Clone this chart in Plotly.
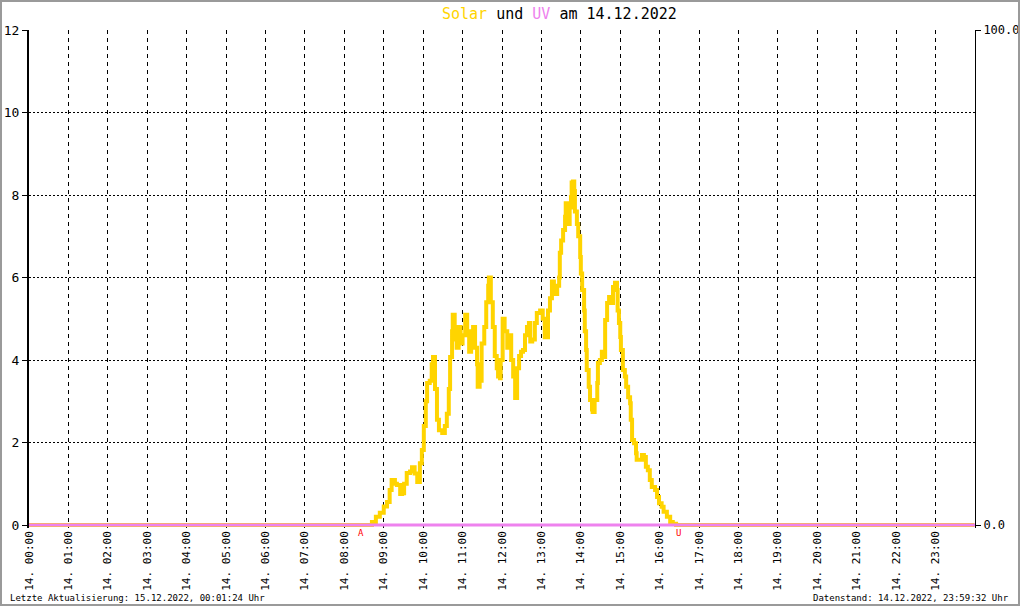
import pandas as pd
import plotly.graph_objects as go

DAY = "2022-12-14"
NEXT_DAY = "2022-12-15"

# Solar radiation (left axis)
solar_times = [
    "00:00", "08:36",
    "08:42", "08:48", "08:54", "09:00", "09:05", "09:09", "09:12", "09:17", "09:20", "09:25",
    "09:28", "09:31", "09:35", "09:40", "09:43", "09:47", "09:51", "09:55", "09:58", "10:01",
    "10:04", "10:06", "10:10", "10:13", "10:15", "10:18", "10:21", "10:24", "10:29", "10:33",
    "10:36", "10:39", "10:41", "10:44", "10:45", "10:48", "10:51", "10:54", "10:57", "11:00",
    "11:04", "11:07", "11:10", "11:13", "11:16", "11:19", "11:22", "11:23", "11:26", "11:29",
    "11:33", "11:36", "11:39", "11:40", "11:43", "11:46", "11:49", "11:52", "11:54", "11:57",
    "11:58", "12:01", "12:04", "12:08", "12:11", "12:14", "12:17", "12:20", "12:23", "12:26",
    "12:29", "12:32", "12:35", "12:38", "12:41", "12:43", "12:46", "12:50", "12:53", "12:58",
    "13:02", "13:05", "13:10", "13:13", "13:16", "13:19", "13:24", "13:27", "13:28", "13:30",
    "13:33", "13:36", "13:37", "13:40", "13:42", "13:43", "13:45", "13:46", "13:48", "13:50",
    "13:51", "13:54", "13:56", "13:59", "14:00", "14:02", "14:05", "14:06", "14:08", "14:09",
    "14:12", "14:14", "14:17", "14:18", "14:21", "14:25", "14:26", "14:29", "14:32", "14:35",
    "14:37", "14:40", "14:43", "14:46", "14:49", "14:52", "14:55", "14:56", "14:58", "15:00",
    "15:01", "15:04", "15:07", "15:09", "15:12", "15:15", "15:16", "15:18", "15:21", "15:24",
    "15:25", "15:30", "15:33", "15:36", "15:39", "15:42", "15:45", "15:48", "15:53", "15:56",
    "15:59", "16:03", "16:06", "16:11", "16:16", "16:20", "16:25", "23:59",
]
solar_values = [
    0.0, 0.0,
    0.07, 0.2, 0.3, 0.45, 0.56, 0.85, 1.09, 1.0, 0.97, 0.75,
    0.77, 1.0, 1.26, 1.3, 1.4, 1.25, 1.04, 1.5, 1.82, 2.4,
    3.0, 3.44, 3.5, 3.9, 4.07, 3.3, 2.55, 2.3, 2.23, 2.4,
    2.7, 3.3, 4.07, 4.7, 5.1, 4.5, 4.3, 4.8, 4.4, 4.6,
    5.1, 4.7, 4.2, 4.5, 4.8, 4.3, 3.9, 3.35, 3.5, 4.4,
    4.8, 5.4, 5.8, 6.0, 5.4, 4.8, 4.1, 3.8, 3.6, 3.56,
    4.0, 5.0, 4.7, 4.3, 4.6, 4.0, 3.6, 3.08, 3.8, 4.1,
    4.2, 4.24, 4.6, 4.8, 4.9, 4.45, 4.5, 4.9, 5.14, 5.2,
    5.0, 4.55, 5.2, 5.5, 5.9, 5.6, 5.8, 6.0, 6.6, 6.9,
    7.15, 7.47, 7.8, 7.56, 7.3, 7.7, 7.95, 8.3, 8.33, 8.1,
    7.6, 7.3, 7.0, 6.5, 6.1, 5.7, 5.2, 4.7, 4.24, 3.76,
    3.35, 3.03, 2.8, 2.74, 3.03, 3.44, 3.93, 4.0, 4.2, 4.07,
    4.97, 5.38, 5.53, 5.38, 5.77, 5.87, 5.7, 5.2, 4.9, 4.56,
    4.24, 3.76, 3.6, 3.35, 3.1, 2.95, 2.55, 2.06, 1.98, 1.74,
    1.58, 1.58, 1.7, 1.65, 1.41, 1.33, 1.09, 0.92, 0.85, 0.68,
    0.53, 0.44, 0.32, 0.2, 0.07, 0.03, 0.0, 0.0,
]

# UV index (right axis) – zero all day
uv_times = ["2022-12-14 00:00", "2022-12-15 00:00"]
uv_values = [0.0, 0.0]

# Sunrise / sunset markers
sun_event_times = ["08:25", "16:29"]
sun_event_labels = ["A", "U"]

left_ticks = [0, 2, 4, 6, 8, 10, 12]
right_ticks = [0, 100]

SOLAR_COLOR = "#FFD400"
UV_COLOR = "#EE82EE"
FONT = "DejaVu Sans Mono"

solar_x = pd.to_datetime([f"{DAY} {t}" for t in solar_times])
uv_x = pd.to_datetime(uv_times)
hour_ticks = pd.date_range(DAY, periods=24, freq="h")

fig = go.Figure()
fig.add_trace(go.Scatter(
    x=solar_x, y=solar_values, mode="lines", line=dict(color=SOLAR_COLOR, width=4, shape="hv"),
    yaxis="y", showlegend=False, hoverinfo="skip",
))
fig.add_trace(go.Scatter(
    x=uv_x, y=uv_values, mode="lines", line=dict(color=UV_COLOR, width=3),
    yaxis="y2", showlegend=False, hoverinfo="skip",
))

W, H = 1020, 606
# plot area extends 3px below the zero line so the thick zero lines are not clipped
EXTRA = 3
ML, MR, MT, MB = 29, 45, 30, 81 - EXTRA
PW, PH = W - ML - MR, H - MT - MB
Y_MAX, Y2_MAX = 12, 100
PX_PER_UNIT = (PH - EXTRA) / Y_MAX
y_lo = -EXTRA / PX_PER_UNIT
y2_lo = y_lo * Y2_MAX / Y_MAX

fig.update_layout(
    width=W, height=H,
    margin=dict(l=ML, r=MR, t=MT, b=MB, pad=0, autoexpand=False),
    paper_bgcolor="white", plot_bgcolor="white",
    font=dict(family=FONT, color="black", size=12),
    xaxis=dict(
        type="date", automargin=False,
        range=[pd.Timestamp(f"{DAY} 00:00"), pd.Timestamp(f"{NEXT_DAY} 00:00")],
        tickvals=hour_ticks, tickformat="%d. %H:%M", tickangle=-90,
        tickfont=dict(family=FONT, size=11),
        showgrid=True, gridcolor="black", gridwidth=1, griddash="4px,4px",
        showline=False, zeroline=False, ticks="",
    ),
    yaxis=dict(
        range=[y_lo, Y_MAX], tickvals=left_ticks, tickformat="d", automargin=False,
        tickfont=dict(family=FONT, size=13),
        showgrid=True, gridcolor="black", gridwidth=1, griddash="2px,2px",
        showline=True, linecolor="black", linewidth=2,
        ticks="outside", ticklen=5, tickcolor="black", zeroline=False,
    ),
    yaxis2=dict(
        range=[y2_lo, Y2_MAX], tickvals=right_ticks, tickformat=".1f", automargin=False,
        overlaying="y", side="right",
        tickfont=dict(family=FONT, size=12),
        showgrid=False, showline=True, linecolor="black", linewidth=1,
        ticks="outside", ticklen=5, tickcolor="black", zeroline=False,
    ),
)

annotations = [
    dict(
        text=(f'<span style="color:{SOLAR_COLOR}">Solar</span> und '
              f'<span style="color:{UV_COLOR}">UV</span> am 14.12.2022'),
        xref="paper", yref="paper", x=(559 - ML) / PW, y=1 + 16 / PH,
        xanchor="center", yanchor="middle", showarrow=False,
        font=dict(family=FONT, size=15, color="black"),
    ),
    dict(
        text="Letzte Aktualisierung: 15.12.2022, 00:01:24 Uhr",
        xref="paper", yref="paper", x=(8 - ML) / PW, y=-(598 - MT - PH) / PH,
        xanchor="left", yanchor="middle", showarrow=False,
        font=dict(family=FONT, size=9, color="black"),
    ),
    dict(
        text="Datenstand: 14.12.2022, 23:59:32 Uhr",
        xref="paper", yref="paper", x=(1011 - ML) / PW, y=-(598 - MT - PH) / PH,
        xanchor="right", yanchor="middle", showarrow=False,
        font=dict(family=FONT, size=9, color="black"),
    ),
]
for t, lab in zip(sun_event_times, sun_event_labels):
    annotations.append(dict(
        text=lab, x=pd.Timestamp(f"{DAY} {t}"), y=0, xref="x", yref="y",
        yanchor="top", xanchor="center", yshift=-1, showarrow=False,
        font=dict(family=FONT, size=9, color="red"),
    ))
fig.update_layout(annotations=annotations)

# outer grey frame of the image
fig.add_shape(
    type="rect", xref="paper", yref="paper",
    x0=(-ML + 1) / PW, x1=(PW + MR - 1) / PW,
    y0=-(MB - 1) / PH, y1=(PH + MT - 1) / PH,
    line=dict(color="#9a9a9a", width=2), fillcolor="rgba(0,0,0,0)", layer="above",
)

fig.write_html(
    "out.html",
    config={"displayModeBar": False},
    post_script="document.body.style.margin='0';document.body.style.overflow='hidden';",
)
